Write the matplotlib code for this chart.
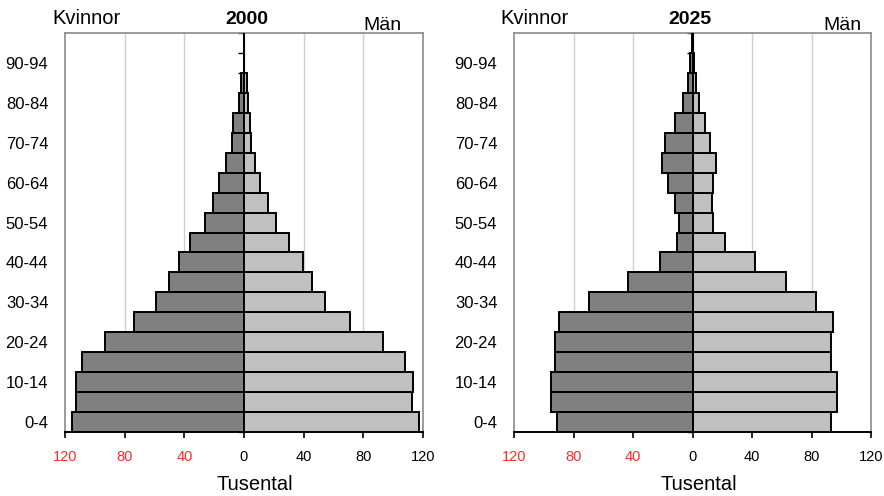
import matplotlib
matplotlib.use("Agg")
import matplotlib.pyplot as plt
import numpy as np

plt.rcParams['font.family'] = ['Liberation Sans', 'DejaVu Sans']

ages = ['0-4', '5-9', '10-14', '15-19', '20-24', '25-29', '30-34', '35-39',
        '40-44', '45-49', '50-54', '55-59', '60-64', '65-69', '70-74',
        '75-79', '80-84', '85-89', '90-94', '95-99']

women_2000 = [115.2, 112.5, 112.5, 108.9, 93.3, 74.0, 59.0, 50.3, 43.7, 36.0,
              25.9, 20.8, 16.8, 12.3, 8.3, 7.1, 3.4, 2.2, 0.3, 0.0]
men_2000 = [117.2, 112.8, 113.0, 107.8, 92.9, 71.2, 54.6, 45.4, 39.3, 30.2,
            21.3, 16.4, 11.0, 7.2, 4.9, 4.0, 3.0, 1.8, 0.3, 0.0]

women_2025 = [90.8, 95.1, 95.1, 92.4, 92.4, 89.7, 69.5, 43.5, 21.7, 10.3,
              9.0, 11.9, 16.8, 20.6, 18.4, 11.7, 6.7, 3.0, 1.4, 0.3]
men_2025 = [93.3, 97.2, 97.2, 93.1, 93.1, 94.5, 82.8, 62.6, 42.2, 21.8,
            14.1, 13.0, 14.1, 15.5, 11.9, 8.1, 4.2, 2.2, 0.9, 0.2]

years = ['2000', '2025']
xticks = [-120, -80, -40, 0, 40, 80, 120]
grid_x = [-80, -40, 40, 80]

W, H = 884, 496
fig = plt.figure(figsize=(W / 100, H / 100), dpi=100)

def fx(px):
    return px / W

def fy(py):
    return 1 - py / H

axes_px = [(65, 33, 423, 432), (514, 33, 871, 432)]
data = [(women_2000, men_2000), (women_2025, men_2025)]
titles_px = [
    dict(kv=(52, 24), yr=(247, 24), man=(363, 30), tus=(255, 490)),
    dict(kv=(500, 24), yr=(690, 24), man=(823, 30), tus=(699, 490)),
]

frame_col = '#8a8a8a'
for i, ((x0, y0, x1, y1), (w, m)) in enumerate(zip(axes_px, data)):
    ax = fig.add_axes([fx(x0), fy(y1), fx(x1) - fx(x0), fy(y0) - fy(y1)])
    y = np.arange(len(ages))
    ax.barh(y, -np.array(w), height=1.0, color='#808080', edgecolor='black',
            linewidth=1.4, zorder=3)
    ax.barh(y, np.array(m), height=1.0, color='#c0c0c0', edgecolor='black',
            linewidth=1.4, zorder=3)
    for gx in grid_x:
        ax.axvline(gx, color='#cfcfcf', lw=1.0, zorder=1)
    ax.set_xlim(-120, 120)
    ax.set_ylim(-0.5, len(ages) - 0.5)

    for s in ['top', 'left', 'right']:
        ax.spines[s].set_color(frame_col)
        ax.spines[s].set_linewidth(1.2)
    ax.spines['bottom'].set_color('black')
    ax.spines['bottom'].set_linewidth(1.4)

    ax.set_xticks(xticks)
    ax.set_xticklabels([str(abs(v)) for v in xticks], fontsize=10.5)
    for lab, v in zip(ax.get_xticklabels(), xticks):
        lab.set_color('#ff2a2a' if v < 0 else 'black')
    ax.tick_params(axis='x', direction='out', length=4, width=1.2, pad=9,
                   color='black')

    ax.set_yticks(y[::2])
    ax.set_yticklabels(ages[::2], fontsize=12)
    ax.tick_params(axis='y', length=0, pad=12)

    sec = ax.secondary_yaxis(0.5)
    sec.set_yticks(np.arange(-0.5, len(ages), 1.0))
    sec.set_yticklabels([])
    sec.tick_params(axis='y', direction='in', length=4.5, width=1.0,
                    color='black')
    sec.spines['left'].set_color('black')
    sec.spines['left'].set_linewidth(1.0)

    t = titles_px[i]
    fig.text(fx(t['kv'][0]), fy(t['kv'][1]), 'Kvinnor', fontsize=14.5,
             ha='left', va='baseline')
    fig.text(fx(t['yr'][0]), fy(t['yr'][1]), years[i], fontsize=14,
             fontweight='bold', ha='center', va='baseline')
    fig.text(fx(t['man'][0]), fy(t['man'][1]), 'Män', fontsize=14,
             ha='left', va='baseline')
    fig.text(fx(t['tus'][0]), fy(t['tus'][1]), 'Tusental', fontsize=14.5,
             ha='center', va='baseline')

fig.savefig('out.png', dpi=100)
